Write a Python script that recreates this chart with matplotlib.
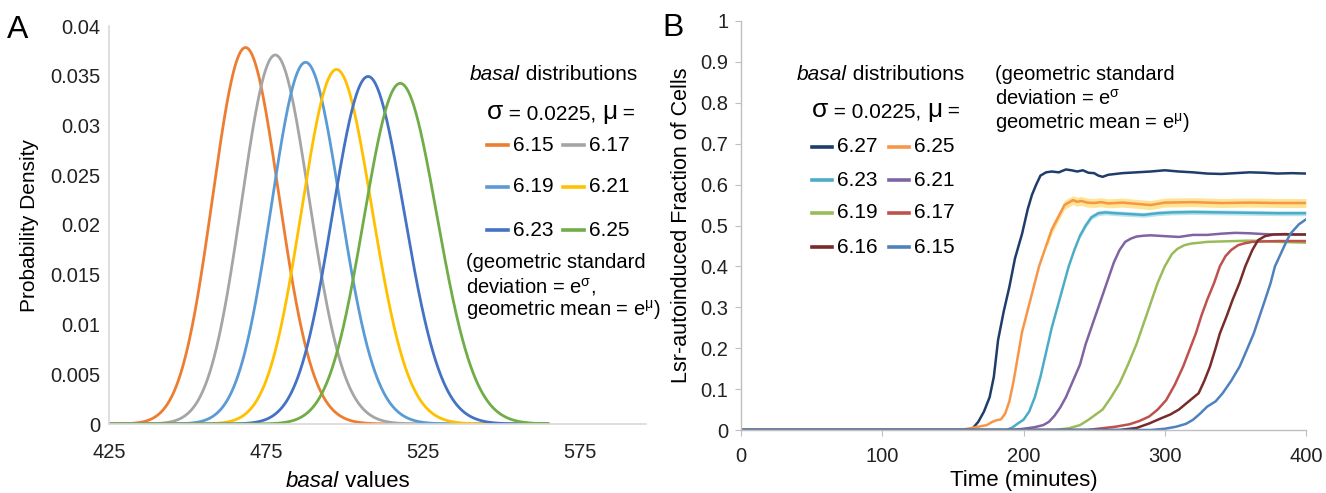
import numpy as np
import matplotlib
matplotlib.use("Agg")
import matplotlib.pyplot as plt

plt.rcParams['font.family'] = ['Liberation Sans', 'DejaVu Sans']

# ---------------- Panel A data ----------------
sigma_a = 0.0225
mu_a = [6.15, 6.17, 6.19, 6.21, 6.23, 6.25]
colors_a = ['#ED7D31', '#A5A5A5', '#5B9BD5', '#FFC000', '#4472C4', '#70AD47']
basal_min, basal_max = 425, 565
xticks_a = [425, 475, 525, 575]
yticks_a = [0, 0.005, 0.01, 0.015, 0.02, 0.025, 0.03, 0.035, 0.04]

# ---------------- Panel B data ----------------
labels_b = ['6.27', '6.25', '6.23', '6.21', '6.19', '6.17', '6.16', '6.15']
colors_b = ['#1F3D6B', '#F79646', '#4BACC6', '#8064A2', '#9BBB59', '#C0504D', '#772C2A', '#4F81BD']

t_627 = [0, 160, 164, 168, 172, 176, 179, 182, 186, 190, 194, 199, 203, 206, 209, 212, 216, 220, 225, 230,
         234, 238, 242, 246, 250, 253, 256, 260, 265, 270, 280, 290, 300, 310, 320, 330, 340, 350, 360, 370,
         380, 390, 400]
y_627 = [0, 0, 0.004, 0.02, 0.045, 0.08, 0.13, 0.22, 0.29, 0.35, 0.42, 0.48, 0.54, 0.575, 0.6, 0.622, 0.63,
         0.632, 0.63, 0.637, 0.635, 0.632, 0.635, 0.629, 0.628, 0.622, 0.619, 0.624, 0.626, 0.628, 0.63, 0.632,
         0.635, 0.632, 0.63, 0.627, 0.626, 0.628, 0.63, 0.629, 0.627, 0.628, 0.627]

t_625 = [0, 155, 162, 168, 174, 178, 181, 184, 187, 190, 193, 196, 199, 202, 205, 208, 211, 214, 217, 220,
         223, 226, 229, 232, 235, 238, 241, 245, 250, 255, 260, 270, 280, 290, 300, 320, 340, 360, 380, 400]
y_625 = [0, 0, 0.004, 0.008, 0.012, 0.02, 0.024, 0.026, 0.04, 0.07, 0.12, 0.18, 0.24, 0.28, 0.32, 0.36,
         0.40, 0.43, 0.46, 0.49, 0.51, 0.53, 0.55, 0.556, 0.562, 0.558, 0.56, 0.556, 0.555, 0.557, 0.554,
         0.556, 0.553, 0.55, 0.556, 0.557, 0.555, 0.556, 0.555, 0.555]
band_625 = 0.011

t_623 = [0, 188, 192, 196, 200, 204, 208, 212, 216, 220, 224, 228, 232, 236, 240, 244, 248, 253, 258, 265,
         275, 285, 295, 305, 320, 340, 360, 380, 400]
y_623 = [0, 0, 0.006, 0.016, 0.025, 0.045, 0.08, 0.13, 0.19, 0.25, 0.3, 0.35, 0.4, 0.44, 0.475, 0.5, 0.52,
         0.53, 0.532, 0.53, 0.528, 0.526, 0.53, 0.532, 0.533, 0.532, 0.531, 0.53, 0.53]
band_623 = 0.006

t_621 = [0, 192, 200, 208, 214, 218, 222, 226, 230, 235, 240, 244, 248, 252, 256, 260, 264, 268, 272, 276,
         280, 285, 290, 300, 310, 320, 330, 340, 350, 360, 370, 380, 400]
y_621 = [0, 0, 0.003, 0.007, 0.012, 0.02, 0.035, 0.055, 0.08, 0.12, 0.16, 0.21, 0.25, 0.29, 0.33, 0.37,
         0.41, 0.44, 0.46, 0.468, 0.473, 0.475, 0.476, 0.474, 0.472, 0.477, 0.477, 0.48, 0.482, 0.481, 0.479,
         0.478, 0.478]

t_619 = [0, 222, 232, 240, 246, 252, 256, 262, 268, 274, 280, 285, 290, 295, 300, 305, 309, 314, 319, 325,
         330, 340, 350, 360, 370, 380, 390, 400]
y_619 = [0, 0, 0.004, 0.012, 0.025, 0.04, 0.05, 0.08, 0.114, 0.16, 0.21, 0.26, 0.31, 0.36, 0.4, 0.43,
         0.443, 0.452, 0.456, 0.458, 0.46, 0.461, 0.462, 0.463, 0.462, 0.46, 0.459, 0.458]

t_617 = [0, 245, 255, 265, 275, 282, 289, 295, 301, 307, 313, 318, 322, 326, 330, 335, 339, 343, 347, 352,
         356, 362, 370, 380, 390, 400]
y_617 = [0, 0, 0.004, 0.008, 0.014, 0.022, 0.033, 0.05, 0.073, 0.11, 0.155, 0.2, 0.236, 0.28, 0.318, 0.36,
         0.4, 0.425, 0.44, 0.452, 0.456, 0.46, 0.461, 0.462, 0.462, 0.462]

t_616 = [0, 268, 280, 289, 297, 304, 310, 317, 324, 328, 332, 336, 339, 344, 348, 353, 357, 362, 366, 371,
         377, 385, 392, 400]
y_616 = [0, 0, 0.005, 0.016, 0.028, 0.038, 0.05, 0.07, 0.09, 0.12, 0.155, 0.2, 0.236, 0.28, 0.318, 0.36,
         0.4, 0.44, 0.464, 0.474, 0.478, 0.479, 0.478, 0.478]

t_615 = [0, 290, 300, 308, 315, 320, 325, 330, 336, 341, 347, 353, 358, 363, 367, 371, 375, 378, 382, 386,
         389, 395, 400]
y_615 = [0, 0, 0.003, 0.008, 0.015, 0.025, 0.04, 0.057, 0.07, 0.09, 0.12, 0.155, 0.195, 0.236, 0.277,
         0.318, 0.36, 0.4, 0.43, 0.46, 0.48, 0.503, 0.515]

series_b = [(t_627, y_627), (t_625, y_625), (t_623, y_623), (t_621, y_621),
            (t_619, y_619), (t_617, y_617), (t_616, y_616), (t_615, y_615)]
xticks_b = [0, 100, 200, 300, 400]
yticks_b = [0, 0.1, 0.2, 0.3, 0.4, 0.5, 0.6, 0.7, 0.8, 0.9, 1]

# ---------------- Figure ----------------
W, H = 1326, 493
fig = plt.figure(figsize=(W / 100, H / 100), dpi=100)
renderer = fig.canvas.get_renderer()


def fx(px):
    return px / W


def fy(py):
    return 1 - py / H


def chain(x_px, y_px, pieces):
    """Place consecutive text pieces (text, size, style) left to right."""
    x = fx(x_px)
    for txt, size, style in pieces:
        t = fig.text(x, fy(y_px), txt, fontsize=size, style=style, va='baseline', ha='left')
        bb = t.get_window_extent(renderer=renderer)
        x = bb.x1 / W


axis_gray = '#D9D9D9'
tick_fs = 14.5
leg_fs = 15
note_fs = 14.5

# ---- Panel A ----
axA = fig.add_axes([fx(109), fy(424), fx(646 - 109), (424 - 26) / H])
xa = np.linspace(basal_min, basal_max, 800)
for mu, c in zip(mu_a, colors_a):
    pdf = np.exp(-(np.log(xa) - mu) ** 2 / (2 * sigma_a ** 2)) / (xa * sigma_a * np.sqrt(2 * np.pi))
    axA.plot(xa, pdf, color=c, lw=2.0, solid_capstyle='round')
axA.set_xlim(425, 596)
axA.set_ylim(0, 0.04)
axA.set_xticks(xticks_a)
axA.set_yticks(yticks_a)
axA.set_yticklabels(['0', '0.005', '0.01', '0.015', '0.02', '0.025', '0.03', '0.035', '0.04'])
for s in ['top', 'right']:
    axA.spines[s].set_visible(False)
for s in ['left', 'bottom']:
    axA.spines[s].set_color(axis_gray)
    axA.spines[s].set_linewidth(1.2)
axA.tick_params(length=0, labelsize=tick_fs, colors='#222222', pad=6)
axA.tick_params(axis='x', pad=14)
axA.set_ylabel('Probability Density', fontsize=15, labelpad=8)
chain(286, 487, [('basal', 16, 'italic'), (' values', 16, 'normal')])
fig.text(fx(7), fy(30), 'A', fontsize=23, va='center', ha='left')

# Legend A
chain(470, 80, [('basal', leg_fs, 'italic'), (' distributions', leg_fs, 'normal')])
chain(487, 119, [('σ', 19, 'normal'), (' = 0.0225, ', leg_fs, 'normal'), ('μ', 19, 'normal'),
                 (' =', leg_fs, 'normal')])
rows_a = [145, 187, 230]
for i, mu in enumerate(mu_a):
    r, col = divmod(i, 2)
    y = fy(rows_a[r])
    x0 = 487 if col == 0 else 563
    fig.add_artist(plt.Line2D([fx(x0), fx(x0 + 21)], [y, y], color=colors_a[i], lw=2.6,
                              transform=fig.transFigure))
    fig.text(fx(x0 + 26), y, f'{mu:.2f}', fontsize=leg_fs, va='center', ha='left')
fig.text(fx(466), fy(263), '(geometric standard', fontsize=note_fs, va='center', ha='left')
fig.text(fx(466), fy(287), 'deviation = e$^{\\mathregular{σ}}$,', fontsize=note_fs, va='center', ha='left')
fig.text(fx(466), fy(310), 'geometric mean = e$^{\\mathregular{μ}}$)', fontsize=note_fs, va='center', ha='left')

# ---- Panel B ----
axB = fig.add_axes([fx(741), fy(430), fx(1306 - 741), (430 - 21) / H])
for (t, y), c, lab in zip(series_b, colors_b, labels_b):
    t = np.asarray(t, float)
    y = np.asarray(y, float)
    if lab == '6.25':
        m = t >= 215
        axB.fill_between(t[m], y[m] - band_625, y[m] + band_625, color='#FFD34D', alpha=0.6, lw=0)
    if lab == '6.23':
        m = t >= 240
        axB.fill_between(t[m], y[m] - band_623, y[m] + band_623, color='#9FD8E8', alpha=0.7, lw=0)
    axB.plot(t, y, color=c, lw=1.8)
axB.set_xlim(0, 400)
axB.set_ylim(0, 1)
axB.set_xticks(xticks_b)
axB.set_yticks(yticks_b)
axB.set_yticklabels(['0', '0.1', '0.2', '0.3', '0.4', '0.5', '0.6', '0.7', '0.8', '0.9', '1'])
for s in ['top', 'right']:
    axB.spines[s].set_visible(False)
for s in ['left', 'bottom']:
    axB.spines[s].set_color('#BFBFBF')
    axB.spines[s].set_linewidth(1.0)
axB.tick_params(length=4, color='#BFBFBF', labelsize=tick_fs, labelcolor='#222222', pad=5)
axB.tick_params(axis='x', pad=8)
axB.set_xlabel('Time (minutes)', fontsize=16, labelpad=3)
axB.set_ylabel('Lsr-autoinduced Fraction of Cells', fontsize=15.5, labelpad=6)
fig.text(fx(662), fy(28), 'B', fontsize=23, va='center', ha='left')

# Legend B
chain(797, 80, [('basal', leg_fs, 'italic'), (' distributions', leg_fs, 'normal')])
chain(812, 117, [('σ', 19, 'normal'), (' = 0.0225, ', leg_fs, 'normal'), ('μ', 19, 'normal'),
                 (' =', leg_fs, 'normal')])
rows_b = [147, 180, 213, 247]
for i, lab in enumerate(labels_b):
    r, col = divmod(i, 2)
    y = fy(rows_b[r])
    x0 = 812 if col == 0 else 889
    fig.add_artist(plt.Line2D([fx(x0), fx(x0 + 20)], [y, y], color=colors_b[i], lw=2.6,
                              transform=fig.transFigure))
    fig.text(fx(x0 + 25), y, lab, fontsize=leg_fs, va='center', ha='left')
fig.text(fx(995), fy(75), '(geometric standard', fontsize=note_fs, va='center', ha='left')
fig.text(fx(995), fy(99), 'deviation = e$^{\\mathregular{σ}}$', fontsize=note_fs, va='center', ha='left')
fig.text(fx(995), fy(123), 'geometric mean = e$^{\\mathregular{μ}}$)', fontsize=note_fs, va='center', ha='left')

fig.savefig('out.png', dpi=100)
